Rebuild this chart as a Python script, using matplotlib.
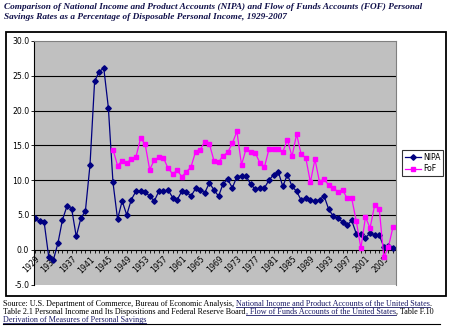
import matplotlib
matplotlib.use('Agg')
import matplotlib.pyplot as plt
from matplotlib.patches import Rectangle
from matplotlib.lines import Line2D

# personal saving rates, percent of disposable personal income
years = list(range(1929, 2008))
nipa = [4.5, 4.1, 4.0, -1.0, -1.5, 0.9, 4.3, 6.3, 5.9, 1.9,
        4.5, 5.6, 12.2, 24.2, 25.6, 26.1, 20.4, 9.7, 4.4, 7.0,
        5.0, 7.2, 8.4, 8.4, 8.3, 7.7, 7.0, 8.4, 8.4, 8.6,
        7.5, 7.2, 8.4, 8.3, 7.7, 8.8, 8.6, 8.2, 9.6, 8.6,
        7.7, 9.5, 10.1, 8.9, 10.5, 10.6, 10.6, 9.4, 8.7, 8.9,
        8.9, 10.0, 10.8, 11.2, 9.1, 10.8, 9.1, 8.4, 7.1, 7.4,
        7.1, 7.0, 7.2, 7.7, 5.8, 4.8, 4.5, 4.0, 3.5, 4.2,
        2.3, 2.3, 1.7, 2.4, 2.1, 2.1, 0.4, 0.5, 0.3]

fof_years = list(range(1946, 2008))
fof = [14.4, 12.1, 12.8, 12.5, 13.0, 13.3, 16.0, 15.2, 11.5, 12.9,
       13.3, 13.2, 11.7, 10.9, 11.4, 10.5, 11.2, 11.9, 14.1, 14.4,
       15.5, 15.2, 12.8, 12.6, 13.5, 14.0, 15.3, 17.0, 12.2, 14.5,
       14.1, 13.9, 12.5, 11.9, 14.5, 14.5, 14.5, 14.1, 15.8, 13.4,
       16.6, 13.7, 13.2, 9.7, 13.0, 9.7, 10.1, 9.3, 8.9, 8.3,
       8.6, 7.4, 7.4, 4.1, 0.2, 4.7, 3.1, 6.4, 5.9, -1.1,
       0.4, 3.3]

label_years = list(range(1929, 2008, 4))

title = ("Comparison of National Income and Product Accounts (NIPA) and Flow of Funds Accounts (FOF) Personal\n"
         "Savings Rates as a Percentage of Disposable Personal Income, 1929-2007")

source_lines = [
    [("Source: U.S. Department of Commerce, Bureau of Economic Analysis, ", False),
     ("National Income and Product Accounts of the United States", True), (".", False)],
    [("Table 2.1 Personal Income and Its Dispositions and Federal Reserve Board", False),
     (", Flow of Funds Accounts of the United States", True), (", Table F.10", False)],
    [("Derivation of Measures of Personal Savings", True)],
]

W, H = 450, 334
fig = plt.figure(figsize=(4.5, 3.34), dpi=100)

# title
fig.text(4 / W, 1 - 3 / H, title, ha='left', va='top', family='Liberation Serif',
         style='italic', weight='bold', fontsize=6.7, color='#10104a', linespacing=1.3)

# chart frame
fig.patches.append(Rectangle((6 / W, 1 - 296 / H), 440 / W, 264 / H, transform=fig.transFigure,
                             fill=False, edgecolor='black', linewidth=1.3))

ax = fig.add_axes([34 / W, 1 - 284.5 / H, 362 / W, 243.5 / H])
ax.set_facecolor('#C0C0C0')

ax.plot(years, nipa, color='#000080', marker='D', markersize=2.8, linewidth=0.9, label='NIPA')
ax.plot(fof_years, fof, color='#FF00FF', marker='s', markersize=3.0, linewidth=0.9, label='FoF')

ax.set_ylim(-5, 30)
ax.set_xlim(1928.8, 2007.65)
ax.set_yticks(range(-5, 31, 5))
ax.set_yticklabels(['%.1f' % v for v in range(-5, 31, 5)])
for v in range(5, 30, 5):
    ax.axhline(v, color='black', linewidth=0.8, zorder=1)

for s in ['top', 'right']:
    ax.spines[s].set_color('#808080')
    ax.spines[s].set_linewidth(0.8)
ax.spines['left'].set_linewidth(0.8)
ax.spines['bottom'].set_position(('data', 0))
ax.spines['bottom'].set_linewidth(0.8)
ax.spines['bottom'].set_zorder(1)

ax.set_xticks(label_years)
ax.set_xticklabels([str(y) for y in label_years], rotation=45, ha='right', va='top',
                   rotation_mode='anchor')
ax.set_xticks(years, minor=True)
ax.tick_params(axis='x', which='both', direction='out', length=2.5, width=0.6,
               labelsize=5.6, pad=1, colors='black')
ax.tick_params(axis='y', direction='out', length=2.5, width=0.6, labelsize=5.6, pad=1)

leg = ax.legend(loc='upper left', bbox_to_anchor=(402 / W, 1 - 150 / H),
                bbox_transform=fig.transFigure, fontsize=5.6, frameon=True, fancybox=False,
                edgecolor='black', handlelength=2.1, handletextpad=0.3, borderpad=0.35,
                labelspacing=0.35, borderaxespad=0)
leg.get_frame().set_linewidth(0.8)

# source notes, with underlined link pieces
fig.canvas.draw()
renderer = fig.canvas.get_renderer()
inv = fig.transFigure.inverted()
y0 = 306
for line in source_lines:
    x = 3 / W
    for piece, link in line:
        t = fig.text(x, 1 - y0 / H, piece, ha='left', va='baseline', family='Liberation Serif',
                     fontsize=5.9, color='#1a1a66' if link else 'black')
        bb = t.get_window_extent(renderer)
        (x0f, _), (x1f, _) = inv.transform([[bb.x0, bb.y0], [bb.x1, bb.y1]])
        if link:
            fig.lines.append(Line2D([x0f, x1f], [1 - (y0 + 1.2) / H] * 2, transform=fig.transFigure,
                                    color='#1a1a66', linewidth=0.6))
        x = x1f
    y0 += 8
fig.lines.append(Line2D([3 / W, 440 / W], [1 - 323.5 / H] * 2, transform=fig.transFigure,
                        color='black', linewidth=0.8))

fig.savefig('out.png', dpi=100)
